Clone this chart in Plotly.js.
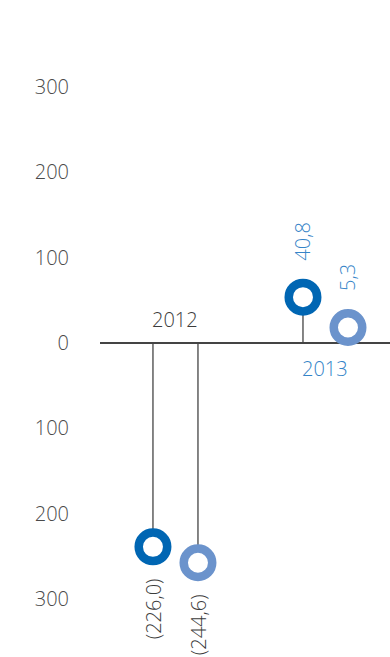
<!DOCTYPE html>
<html>
<head>
<meta charset="utf-8">
<script src="https://cdn.plot.ly/plotly-3.0.1.min.js"></script>
<style>html,body{margin:0;padding:0;background:#fff;}#chart{width:390px;height:657px;}</style>
</head>
<body>
<div id="chart"></div>
<script>
// Data
var categories = ['2012', '2013'];
var seriesA = [-226.0, 40.8];   // dark blue
var seriesB = [-244.6, 5.3];    // light blue
var labelsA = ['(226,0)', '40,8'];
var labelsB = ['(244,6)', '5,3'];
var tickVals = [-300, -200, -100, 0, 100, 200, 300];
var tickText = ['300', '200', '100', '0', '100', '200', '300'];

var colA = '#0066b3', colB = '#6b93cc';
var labelBlue = '#3584c8', gray = '#3c3c3c';
var offA = -0.15, offB = 0.15;
var FONT = '"Open Sans", Lato, sans-serif';

function stems(vals, off) {
  var xs = [], ys = [];
  vals.forEach(function (v, i) { xs.push(i + off, i + off, null); ys.push(0, v, null); });
  return {x: xs, y: ys, mode: 'lines', line: {color: '#444', width: 1.3}, hoverinfo: 'skip', showlegend: false, type: 'scatter'};
}

var R = 14.25, D = 11;
var shapes = [];
function rings(vals, off, col) {
  vals.forEach(function (v, i) {
    var s = v >= 0 ? 1 : -1;
    shapes.push({type: 'circle', xref: 'x', yref: 'y', xsizemode: 'pixel', ysizemode: 'pixel',
      xanchor: i + off, yanchor: v, x0: -R, x1: R, y0: s * D - R, y1: s * D + R,
      line: {color: col, width: 8.5}, fillcolor: '#fff', layer: 'above'});
  });
}
rings(seriesA, offA, colA);
rings(seriesB, offB, colB);

var annotations = [];
function labels(vals, texts, off) {
  vals.forEach(function (v, i) {
    var pos = v >= 0;
    annotations.push({x: i + off, y: v, xref: 'x', yref: 'y', text: texts[i], showarrow: false,
      textangle: -90, xanchor: 'center', yanchor: pos ? 'bottom' : 'top', yshift: pos ? 46 : -40,
      font: {family: FONT, size: 20, color: pos ? labelBlue : gray, weight: 300}});
  });
}
labels(seriesA, labelsA, offA);
labels(seriesB, labelsB, offB);
annotations.push({x: 0, y: 0, xref: 'x', yref: 'y', text: categories[0], showarrow: false,
  yanchor: 'bottom', yshift: 8, font: {family: FONT, size: 20, color: gray, weight: 300}});
annotations.push({x: 1, y: 0, xref: 'x', yref: 'y', text: categories[1], showarrow: false,
  yanchor: 'top', yshift: -10, font: {family: FONT, size: 20, color: labelBlue, weight: 300}});

var layout = {
  width: 390, height: 657,
  margin: {l: 100, r: 0, t: 0, b: 0},
  paper_bgcolor: '#fff', plot_bgcolor: '#fff',
  showlegend: false,
  xaxis: {range: [-0.503, 1.43], showgrid: false, zeroline: false, showticklabels: false, showline: false, ticks: ''},
  yaxis: {range: [-368, 402], showgrid: false, zeroline: true, zerolinecolor: '#444', zerolinewidth: 1.5,
    tickvals: tickVals, ticktext: tickText, ticks: '', ticklabelstandoff: 30, showline: false,
    tickfont: {family: FONT, size: 20, color: '#4a4a4a', weight: 300}},
  shapes: shapes,
  annotations: annotations
};

Plotly.newPlot('chart', [stems(seriesA, offA), stems(seriesB, offB)], layout, {displayModeBar: false, staticPlot: true});
</script>
</body>
</html>
